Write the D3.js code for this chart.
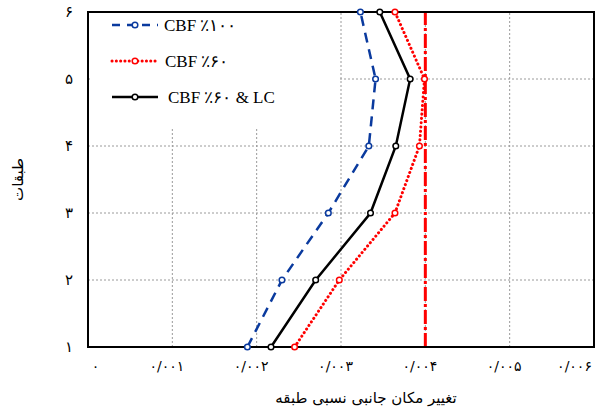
<!DOCTYPE html>
<html>
<head>
<meta charset="utf-8">
<script src="https://cdn.jsdelivr.net/npm/d3@7"></script>
<style>
  body { margin: 0; background: #fff; }
  svg { display: block; }
</style>
</head>
<body>
<div id="chart"></div>
<script>
// story drift values
var stories = [1, 2, 3, 4, 5, 6];
var cbf100 = [0.00189, 0.00230, 0.00285, 0.00333, 0.00341, 0.00323];
var cbf60 = [0.00245, 0.00298, 0.00364, 0.00393, 0.00399, 0.00364];
var cbf60lc = [0.00217, 0.00270, 0.00335, 0.00365, 0.00382, 0.00346];
var limitValue = 0.004;

var xTicks = [0, 0.001, 0.002, 0.003, 0.004, 0.005, 0.006];
var xTickLabels = ["۰", "۰/۰۰۱", "۰/۰۰۲", "۰/۰۰۳", "۰/۰۰۴", "۰/۰۰۵", "۰/۰۰۶"];
var yTickLabels = ["۱", "۲", "۳", "۴", "۵", "۶"];
var seriesNames = ["CBF ٪۱۰۰", "CBF ٪۶۰", "CBF ٪۶۰ & LC"];

var w = 608, h = 418;
var margin = {top: 12, right: 14, bottom: 71, left: 88};

var x = d3.scaleLinear()
    .domain([0, 0.006])
    .range([margin.left, w - margin.right]);

var y = d3.scaleLinear()
    .domain([1, 6])
    .range([h - margin.bottom, margin.top]);

var svg = d3.select("#chart")
    .append("svg")
        .attr("width", w)
        .attr("height", h);

// dotted grid
svg.append("g")
    .selectAll("line")
    .data(xTicks.slice(1, -1))
    .enter().append("line")
        .attr("x1", function(d){ return x(d); })
        .attr("x2", function(d){ return x(d); })
        .attr("y1", y(1))
        .attr("y2", y(6))
        .attr("stroke", "#9a9a9a")
        .attr("stroke-width", 1)
        .attr("stroke-dasharray", "2,2");

svg.append("g")
    .selectAll("line")
    .data(stories.slice(1, -1))
    .enter().append("line")
        .attr("x1", x(0))
        .attr("x2", x(0.006))
        .attr("y1", function(d){ return y(d); })
        .attr("y2", function(d){ return y(d); })
        .attr("stroke", "#9a9a9a")
        .attr("stroke-width", 1)
        .attr("stroke-dasharray", "2,2");

// legend background hides the grid behind it
svg.append("rect")
    .attr("x", x(0) + 4)
    .attr("y", y(6) + 1)
    .attr("width", 248)
    .attr("height", 116)
    .attr("fill", "white");

// allowable drift line
svg.append("line")
    .attr("x1", x(limitValue))
    .attr("x2", x(limitValue))
    .attr("y1", y(1))
    .attr("y2", y(6))
    .attr("stroke", "#ff0000")
    .attr("stroke-width", 3)
    .attr("stroke-dasharray", "14,3,3,3");

var series = [
    {name: seriesNames[0], values: cbf100, color: "#0a3a9e", dash: "10,7", cap: "butt"},
    {name: seriesNames[1], values: cbf60, color: "#ff0000", dash: "0.1,4.2", cap: "round"},
    {name: seriesNames[2], values: cbf60lc, color: "#000000", dash: null, cap: "butt"}
];

var line = d3.line()
    .x(function(d){ return x(d.v); })
    .y(function(d){ return y(d.s); });

series.forEach(function(s){
    var pts = s.values.map(function(v, i){ return {v: v, s: stories[i]}; });
    svg.append("path")
        .datum(pts)
        .attr("d", line)
        .attr("fill", "none")
        .attr("stroke", s.color)
        .attr("stroke-width", s.cap === "round" ? 3 : 2.5)
        .attr("stroke-linecap", s.cap)
        .attr("stroke-dasharray", s.dash);
});

// frame
svg.append("rect")
    .attr("x", x(0))
    .attr("y", y(6))
    .attr("width", x(0.006) - x(0))
    .attr("height", y(1) - y(6))
    .attr("fill", "none")
    .attr("stroke", "black")
    .attr("stroke-width", 2);

series.forEach(function(s){
    var pts = s.values.map(function(v, i){ return {v: v, s: stories[i]}; });
    svg.append("g")
        .selectAll("circle")
        .data(pts)
        .enter().append("circle")
            .attr("cx", function(d){ return x(d.v); })
            .attr("cy", function(d){ return y(d.s); })
            .attr("r", 2.8)
            .attr("fill", "white")
            .attr("stroke", s.color)
            .attr("stroke-width", 1.5);
});

// axes
var xAxis = svg.append("g")
    .attr("transform", "translate(0," + y(1) + ")")
    .call(d3.axisBottom(x)
        .tickValues(xTicks)
        .tickSize(0)
        .tickPadding(14)
        .tickFormat(function(d, i){ return xTickLabels[i]; }));
xAxis.select(".domain").remove();
xAxis.selectAll("text")
    .style("font-family", "DejaVu Sans, sans-serif")
    .style("font-size", "14px")
    .style("letter-spacing", "1.5px")
    .attr("fill", "black")
    .attr("dx", function(d, i){
        if (i === 0) return 7;
        if (i === xTicks.length - 1) return -20;
        return -6;
    });

var yAxis = svg.append("g")
    .attr("transform", "translate(" + x(0) + ",0)")
    .call(d3.axisLeft(y)
        .tickValues(stories)
        .tickSize(0)
        .tickPadding(15)
        .tickFormat(function(d, i){ return yTickLabels[i]; }));
yAxis.select(".domain").remove();
yAxis.selectAll("text")
    .style("font-family", "DejaVu Sans, sans-serif")
    .style("font-size", "15px")
    .attr("fill", "black");

// axis titles
svg.append("text")
    .attr("x", 366)
    .attr("y", 403)
    .attr("text-anchor", "middle")
    .attr("direction", "rtl")
    .style("font-family", "DejaVu Sans, sans-serif")
    .style("font-size", "15px")
    .text("تغییر مکان جانبی نسبی طبقه");

svg.append("text")
    .attr("transform", "translate(23," + ((y(1) + y(6)) / 2) + ") rotate(-90)")
    .attr("text-anchor", "middle")
    .attr("direction", "rtl")
    .style("font-family", "DejaVu Sans, sans-serif")
    .style("font-size", "15px")
    .text("طبقات");

// legend
var legendG = svg.selectAll(".legend")
    .data(series)
    .enter().append("g")
        .attr("class", "legend")
        .attr("transform", function(d, i){
            return "translate(112," + [25, 61, 97][i] + ")";
        });

legendG.append("line")
    .attr("x1", 0)
    .attr("x2", 46)
    .attr("stroke", function(d){ return d.color; })
    .attr("stroke-width", function(d){ return d.cap === "round" ? 3 : 2.5; })
    .attr("stroke-linecap", function(d){ return d.cap; })
    .attr("stroke-dasharray", function(d){ return d.dash ? (d.cap === "round" ? "0.1,4.2" : "8,7") : null; });

legendG.append("circle")
    .attr("cx", 23)
    .attr("r", 2.8)
    .attr("fill", "white")
    .attr("stroke", function(d){ return d.color; })
    .attr("stroke-width", 1.5);

legendG.append("text")
    .attr("x", function(d, i){ return [52, 53, 56][i]; })
    .attr("y", 6)
    .style("font-family", "Liberation Serif, DejaVu Serif, serif")
    .style("font-size", "17px")
    .text(function(d){ return d.name; });
</script>
</body>
</html>
